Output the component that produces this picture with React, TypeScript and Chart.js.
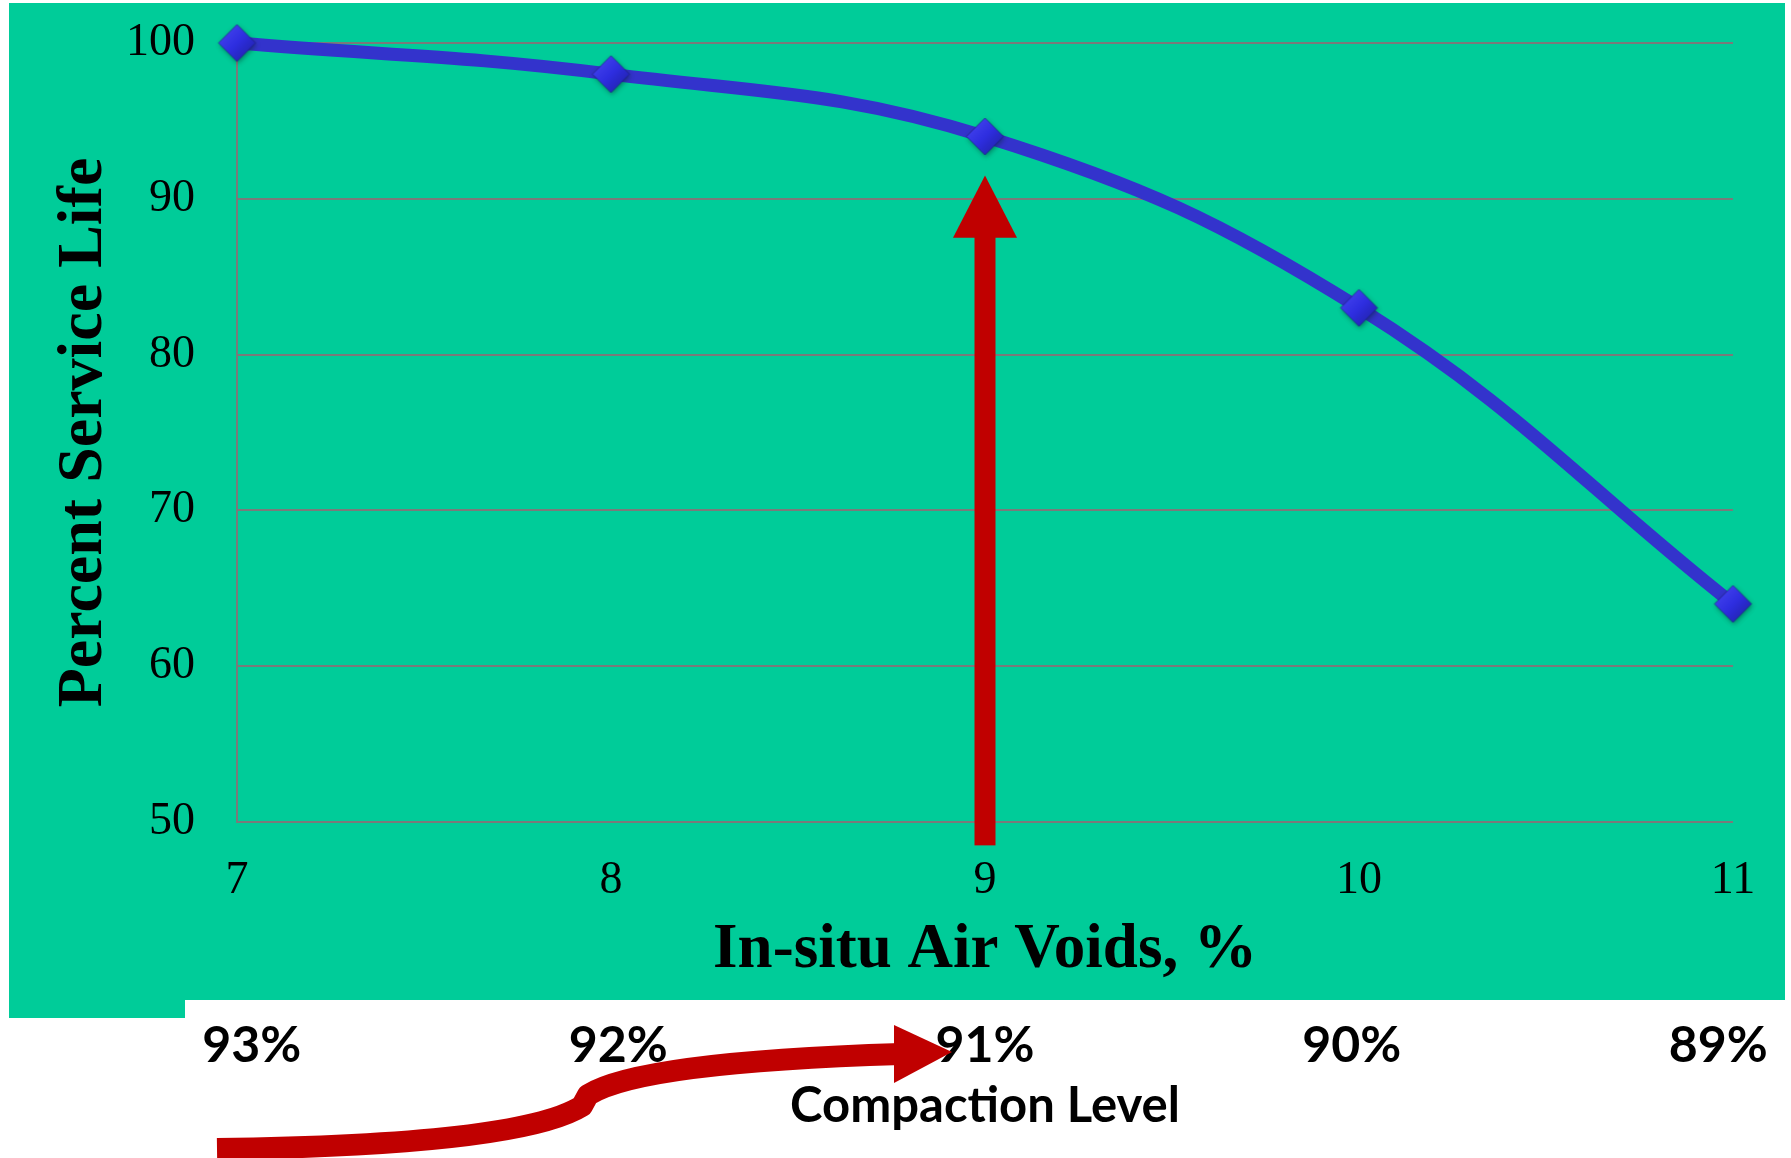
import { useEffect, useRef } from "react";
import { Chart, registerables } from "chart.js";

Chart.register(...registerables);

// Service life versus in-place air voids
const AIR_VOIDS = [7, 8, 9, 10, 11];
const SERVICE_LIFE = [100, 98, 94, 83, 64];

// Compaction level scale shown under the air-void axis (100% minus air voids)
const COMPACTION_TICKS = [93, 92, 91, 90, 89];
const COMPACTION_MIN = 88.96;
const COMPACTION_MAX = 93.04;

const Y_MIN = 50;
const Y_MAX = 100;
const Y_STEP = 10;

// Highlighted air-void level and the extent of the pointer arrow (in % service life)
const TARGET_VOIDS = 9;
const ARROW_FROM = 48.5;
const ARROW_HEAD = 87.5;
const ARROW_TIP = 91.5;

const GREEN = "#00CC99";
const RED = "#C00000";
const LINE_BLUE = "#3333CC";
const GRID = "#7A7A7A";
const SERIF = '"Liberation Serif", "Times New Roman", serif';
const SANS = 'Lato, "Open Sans", "Noto Sans", sans-serif';

const W = 1791;
const H = 1158;

// Bevelled diamond marker with a soft drop shadow
function makeMarker(r: number): HTMLCanvasElement {
  const pad = 8;
  const size = Math.ceil(2 * r + 2 * pad);
  const c = document.createElement("canvas");
  c.width = size;
  c.height = size;
  const g = c.getContext("2d")!;
  const m = size / 2;
  g.shadowColor = "rgba(0, 40, 30, 0.45)";
  g.shadowBlur = 5;
  g.shadowOffsetX = 1;
  g.shadowOffsetY = 2;
  const grad = g.createLinearGradient(m - r, m - r, m + r, m + r);
  grad.addColorStop(0, "#4A4AF2");
  grad.addColorStop(0.5, "#2E2EE0");
  grad.addColorStop(1, "#1E1E9C");
  g.fillStyle = grad;
  g.beginPath();
  g.moveTo(m, m - r);
  g.lineTo(m + r, m);
  g.lineTo(m, m + r);
  g.lineTo(m - r, m);
  g.closePath();
  g.fill();
  g.shadowColor = "transparent";
  g.strokeStyle = "rgba(25, 25, 120, 0.6)";
  g.lineWidth = 1;
  g.stroke();
  return c;
}

const backdrop = {
  id: "backdrop",
  beforeDraw(chart: any) {
    const { ctx } = chart;
    const xs = chart.scales.x;
    ctx.save();
    ctx.fillStyle = "#ffffff";
    ctx.fillRect(0, 0, chart.width, chart.height);
    ctx.fillStyle = GREEN;
    ctx.fillRect(9, 3, chart.width - 15, xs.bottom - 3);
    ctx.fillRect(9, xs.bottom - 1, 176, 19);
    ctx.restore();
  },
};

const pointerArrow = {
  id: "pointerArrow",
  afterDatasetsDraw(chart: any) {
    const { ctx } = chart;
    const { x, y } = chart.scales;
    const cx = x.getPixelForValue(TARGET_VOIDS);
    const yBase = y.getPixelForValue(ARROW_FROM);
    const yHead = y.getPixelForValue(ARROW_HEAD);
    const yTip = y.getPixelForValue(ARROW_TIP);
    ctx.save();
    ctx.fillStyle = RED;
    ctx.fillRect(cx - 10.5, yHead - 1, 21, yBase - yHead + 1);
    ctx.beginPath();
    ctx.moveTo(cx - 32, yHead);
    ctx.lineTo(cx, yTip);
    ctx.lineTo(cx + 32, yHead);
    ctx.closePath();
    ctx.fill();
    ctx.restore();
  },
};

// Curved arrow under the compaction row, running from 93% toward 91%
const compactionArrow = {
  id: "compactionArrow",
  afterDraw(chart: any) {
    const { ctx } = chart;
    const L = chart.chartArea.left;
    const T = chart.scales.x2.top;
    ctx.save();
    ctx.strokeStyle = RED;
    ctx.fillStyle = RED;
    ctx.lineWidth = 22;
    ctx.lineCap = "butt";
    ctx.lineJoin = "round";
    ctx.beginPath();
    ctx.moveTo(L - 20, T + 149);
    ctx.quadraticCurveTo(L + 283, T + 145, L + 345, T + 106);
    ctx.lineTo(L + 351, T + 95);
    ctx.quadraticCurveTo(L + 403, T + 62, L + 664, T + 54);
    ctx.stroke();
    ctx.beginPath();
    ctx.moveTo(L + 657, T + 25);
    ctx.lineTo(L + 715, T + 52);
    ctx.lineTo(L + 657, T + 83);
    ctx.closePath();
    ctx.fill();
    ctx.restore();
  },
};

export default function App() {
  const ref = useRef<HTMLCanvasElement>(null);

  useEffect(() => {
    const canvas = ref.current;
    if (!canvas) return;
    const marker = makeMarker(18.5);
    const chart = new Chart(canvas, {
      type: "line",
      data: {
        datasets: [
          {
            label: "Percent Service Life",
            data: AIR_VOIDS.map((v, i) => ({ x: v, y: SERVICE_LIFE[i] })),
            borderColor: LINE_BLUE,
            borderWidth: 13,
            tension: 0.4,
            pointStyle: marker as any,
            pointRadius: 19,
            pointHoverRadius: 19,
            clip: false as any,
          },
        ],
      },
      options: {
        responsive: false,
        animation: false,
        devicePixelRatio: 1,
        layout: { padding: { top: 43, right: 58, bottom: 0, left: 0 } },
        plugins: {
          legend: { display: false },
          tooltip: { enabled: false },
        },
        scales: {
          x: {
            type: "linear",
            position: "bottom",
            weight: 0,
            min: AIR_VOIDS[0],
            max: AIR_VOIDS[AIR_VOIDS.length - 1],
            grid: { display: false },
            border: { display: false },
            ticks: {
              stepSize: 1,
              padding: 23,
              color: "#000",
              font: { family: SERIF, size: 46, lineHeight: 1.2 },
            },
            title: {
              display: true,
              text: "In-situ Air Voids, %",
              color: "#000",
              padding: { top: 0, bottom: 11 },
              font: { family: SERIF, size: 63, weight: "bold", lineHeight: 1.2 },
            },
            afterFit(scale: any) {
              scale.height = 178;
            },
          },
          x2: {
            type: "linear",
            position: "bottom",
            weight: 1,
            reverse: true,
            min: COMPACTION_MIN,
            max: COMPACTION_MAX,
            grid: { display: false },
            border: { display: false },
            ticks: {
              stepSize: 1,
              includeBounds: false,
              padding: 8,
              color: "#000",
              font: { family: SANS, size: 50, weight: "bold", lineHeight: 1.2 },
              callback: (v: any) => (COMPACTION_TICKS.includes(v) ? `${v}%` : ""),
            },
            title: {
              display: true,
              text: "Compaction Level",
              color: "#000",
              padding: { top: 0, bottom: 22 },
              font: { family: SANS, size: 49, weight: "bold", lineHeight: 1.2 },
            },
            afterFit(scale: any) {
              scale.height = 158;
            },
          },
          y: {
            type: "linear",
            min: Y_MIN,
            max: Y_MAX,
            grid: {
              color: GRID,
              lineWidth: 2,
              drawTicks: true,
              tickLength: 42,
              tickColor: "rgba(0,0,0,0)",
            },
            border: { display: true, color: GRID, width: 2 },
            ticks: {
              stepSize: Y_STEP,
              padding: 0,
              color: "#000",
              font: { family: SERIF, size: 46, lineHeight: 1.2 },
            },
            title: {
              display: true,
              text: "Percent Service Life",
              color: "#000",
              padding: { top: 46, bottom: 0 },
              font: { family: SERIF, size: 64, weight: "bold", lineHeight: 1.2 },
            },
            afterFit(scale: any) {
              scale.width = 237;
            },
          },
        },
      } as any,
      plugins: [backdrop, pointerArrow, compactionArrow],
    });
    return () => chart.destroy();
  }, []);

  return (
    <div style={{ position: "fixed", left: 0, top: 0, width: W, height: H, background: "#fff" }}>
      <canvas ref={ref} width={W} height={H} style={{ display: "block", width: W, height: H }} />
    </div>
  );
}
